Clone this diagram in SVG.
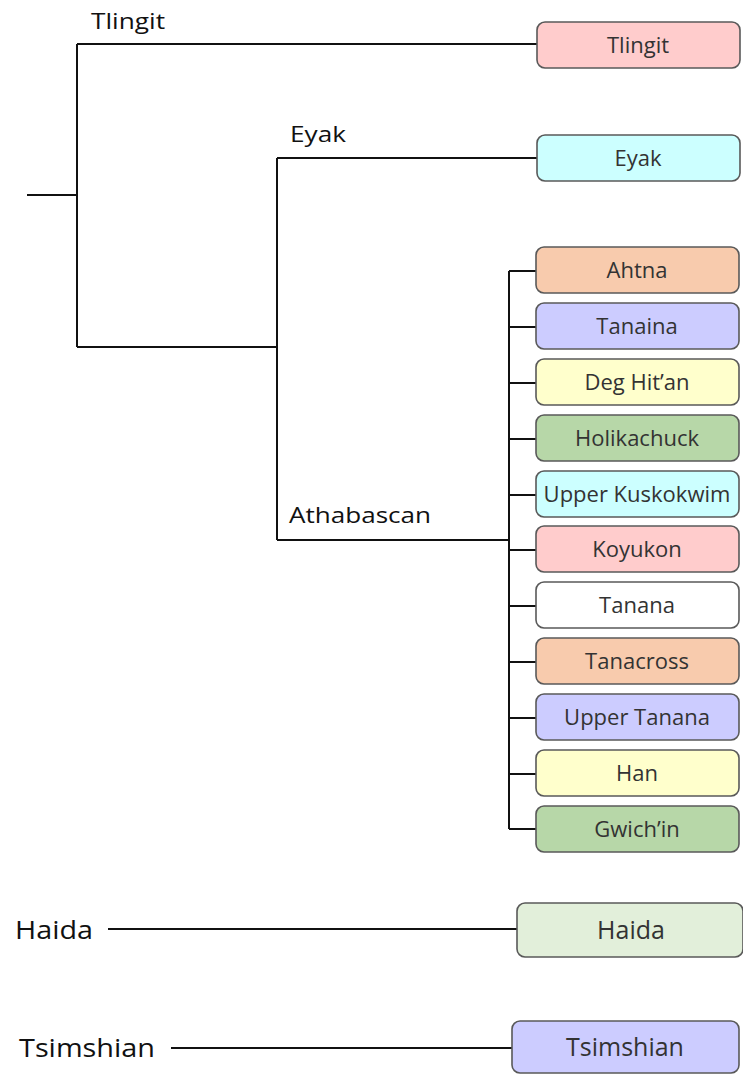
<svg xmlns="http://www.w3.org/2000/svg" width="743" height="1078" viewBox="0 0 743 1078">
<style>
.box{stroke:#595959;stroke-width:1.6}
.bt{font-family:"Open Sans","Liberation Sans",sans-serif;font-size:22px;fill:#333;text-anchor:middle}
.big{font-size:25px}
.lab{font-family:"Open Sans","Liberation Sans",sans-serif;font-size:22px;fill:#111}
.lab2{font-family:"Open Sans","Liberation Sans",sans-serif;font-size:25px;fill:#111}
.ln{stroke:#111;stroke-width:2;fill:none}
</style>
<rect width="743" height="1078" fill="#fff"/>
<g id="connectors">
<path class="ln" d="M27 195H77M77 44V347M77 44H537M77 347H277M277 158V540M277 158H537M277 540H509M509 271V829"/>
<path class="ln" d="M509 271H536M509 327H536M509 383H536M509 439H536M509 495H536M509 550H536M509 606H536M509 662H536M509 718H536M509 774H536M509 829H536"/>
<path class="ln" d="M108 929H517M171 1048H512"/>
</g>
<g id="labels">
<text class="lab" x="91" y="29" textLength="74" lengthAdjust="spacingAndGlyphs">Tlingit</text>
<text class="lab" x="290" y="142" textLength="56" lengthAdjust="spacingAndGlyphs">Eyak</text>
<text class="lab" x="289" y="523" textLength="142" lengthAdjust="spacingAndGlyphs">Athabascan</text>
<text class="lab2" x="15" y="939" textLength="78" lengthAdjust="spacingAndGlyphs">Haida</text>
<text class="lab2" x="19" y="1057" textLength="136" lengthAdjust="spacingAndGlyphs">Tsimshian</text>
</g>
<g id="n-tlingit"><rect class="box" x="537" y="22" width="203" height="46" rx="8" fill="#FFCCCC"/><text class="bt" x="638" y="53">Tlingit</text></g>
<g id="n-eyak"><rect class="box" x="537" y="135" width="203" height="46" rx="8" fill="#CCFFFF"/><text class="bt" x="638" y="166">Eyak</text></g>
<g id="n-ahtna"><rect class="box" x="536" y="247" width="203" height="46" rx="8" fill="#F8CBAD"/><text class="bt" x="637" y="278">Ahtna</text></g>
<g id="n-tanaina"><rect class="box" x="536" y="303" width="203" height="46" rx="8" fill="#CCCCFF"/><text class="bt" x="637" y="334">Tanaina</text></g>
<g id="n-deg"><rect class="box" x="536" y="359" width="203" height="46" rx="8" fill="#FFFFCC"/><text class="bt" x="637" y="390">Deg Hit’an</text></g>
<g id="n-holikachuck"><rect class="box" x="536" y="415" width="203" height="46" rx="8" fill="#B7D7A8"/><text class="bt" x="637" y="446">Holikachuck</text></g>
<g id="n-upperkuskokwim"><rect class="box" x="536" y="471" width="203" height="46" rx="8" fill="#CCFFFF"/><text class="bt" x="637" y="502" font-size="21">Upper Kuskokwim</text></g>
<g id="n-koyukon"><rect class="box" x="536" y="526" width="203" height="46" rx="8" fill="#FFCCCC"/><text class="bt" x="637" y="557">Koyukon</text></g>
<g id="n-tanana"><rect class="box" x="536" y="582" width="203" height="46" rx="8" fill="#FFFFFF"/><text class="bt" x="637" y="613">Tanana</text></g>
<g id="n-tanacross"><rect class="box" x="536" y="638" width="203" height="46" rx="8" fill="#F8CBAD"/><text class="bt" x="637" y="669">Tanacross</text></g>
<g id="n-uppertanana"><rect class="box" x="536" y="694" width="203" height="46" rx="8" fill="#CCCCFF"/><text class="bt" x="637" y="725">Upper Tanana</text></g>
<g id="n-han"><rect class="box" x="536" y="750" width="203" height="46" rx="8" fill="#FFFFCC"/><text class="bt" x="637" y="781">Han</text></g>
<g id="n-gwichin"><rect class="box" x="536" y="806" width="203" height="46" rx="8" fill="#B7D7A8"/><text class="bt" x="637" y="837">Gwich’in</text></g>
<g id="n-haida"><rect class="box" x="517" y="903" width="226" height="54" rx="8" fill="#E2EFDA"/><text class="bt big" x="631" y="939">Haida</text></g>
<g id="n-tsimshian"><rect class="box" x="512" y="1021" width="227" height="52" rx="8" fill="#CCCCFF"/><text class="bt big" x="625" y="1056">Tsimshian</text></g>
</svg>
